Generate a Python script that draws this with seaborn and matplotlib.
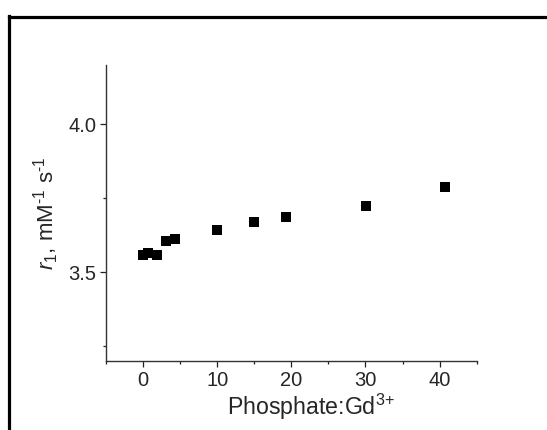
import matplotlib
matplotlib.use("Agg")
import matplotlib.pyplot as plt
from matplotlib.lines import Line2D
from matplotlib.ticker import MultipleLocator
import seaborn as sns
import pandas as pd

# Phosphate:Gd3+ ratio and measured relaxivity r1 (mM^-1 s^-1)
ratio = [0.0, 0.7, 1.9, 3.1, 4.3, 10.0, 14.9, 19.3, 30.1, 40.7]
r1 = [3.559, 3.566, 3.559, 3.604, 3.611, 3.644, 3.668, 3.688, 3.725, 3.789]

x_ticks = [0, 10, 20, 30, 40]
y_ticks = [3.5, 4.0]

df = pd.DataFrame({"ratio": ratio, "r1": r1})

sns.set_theme(style="ticks")
plt.rcParams["font.family"] = ["Liberation Sans", "DejaVu Sans"]
plt.rcParams["mathtext.fontset"] = "custom"
plt.rcParams["mathtext.rm"] = "Liberation Sans"
plt.rcParams["mathtext.it"] = "Liberation Sans:italic"

fig = plt.figure(figsize=(5.47, 4.30), dpi=100)
ax = fig.add_axes([0.1938, 0.1605, 0.6777, 0.6883])

sns.scatterplot(data=df, x="ratio", y="r1", marker="s", s=62,
                color="black", linewidth=0, ax=ax, legend=False)

ax.set_xlim(-5, 45)
ax.set_ylim(3.2, 4.2)
ax.set_xticks(x_ticks)
ax.set_yticks(y_ticks)
ax.set_yticklabels([f"{v:.1f}" for v in y_ticks])
ax.xaxis.set_minor_locator(MultipleLocator(5))
ax.yaxis.set_minor_locator(MultipleLocator(0.25))

ax.tick_params(which="major", length=4, width=0.9, color="#222222",
               labelsize=14.5, pad=3, direction="out")
ax.tick_params(which="minor", length=2.5, width=0.9, color="#222222",
               direction="out")

for side in ("top", "right"):
    ax.spines[side].set_visible(False)
for side in ("left", "bottom"):
    ax.spines[side].set_color("#333333")
    ax.spines[side].set_linewidth(1.0)

ax.set_xlabel(r"Phosphate:Gd$^{\text{3+}}$", fontsize=16.7)
ax.xaxis.set_label_coords(0.553, -0.105)
ax.set_ylabel(r"$\it{r}$$_{\text{1}}$, mM$^{\text{-1}}$ s$^{\text{-1}}$",
              fontsize=16, labelpad=5)

# panel frame along the left and top edges
fig.add_artist(Line2D([8.5 / 547, 8.5 / 547], [0, 1 - 15.5 / 430],
                      transform=fig.transFigure, color="black", linewidth=2.3,
                      solid_capstyle="projecting"))
fig.add_artist(Line2D([8.5 / 547, 1], [1 - 16.5 / 430, 1 - 16.5 / 430],
                      transform=fig.transFigure, color="black", linewidth=2.3,
                      solid_capstyle="projecting"))

fig.savefig("out.png", dpi=100)
